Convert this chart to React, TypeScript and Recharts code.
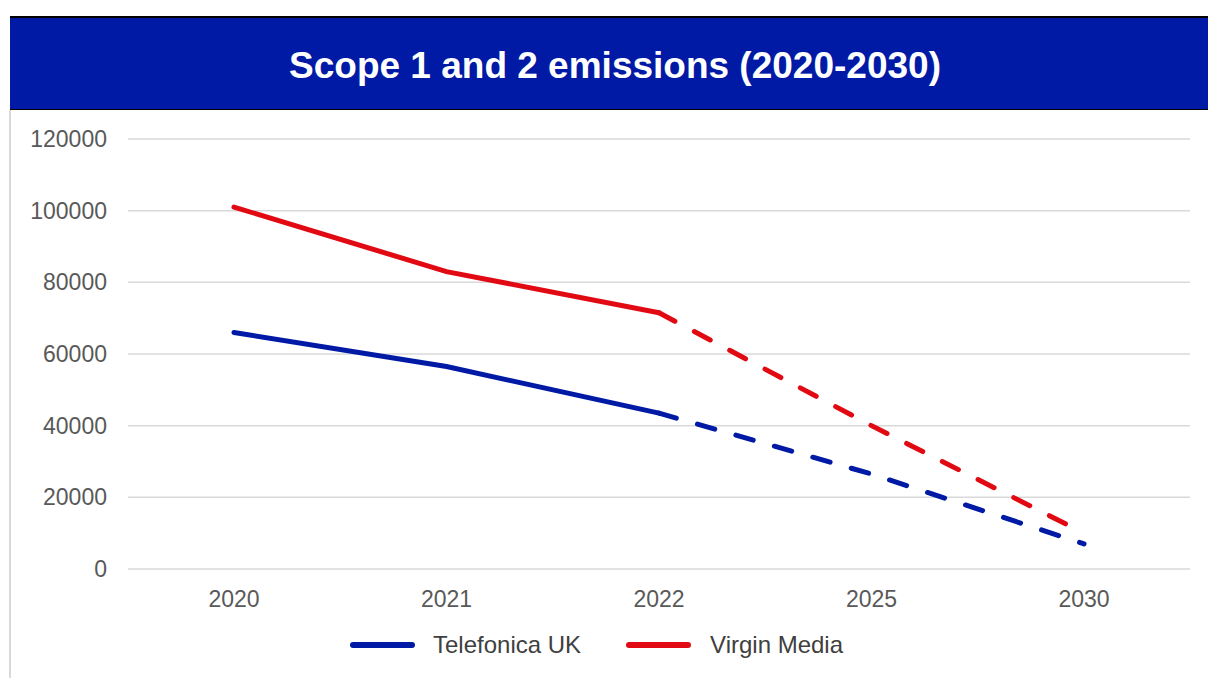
import { LineChart, Line, XAxis, YAxis, CartesianGrid } from 'recharts';

const years = ['2020', '2021', '2022', '2025', '2030'];
const telefonicaUK = [66000, 56500, 43500, 26500, 7000];
const virginMedia = [101000, 83000, 71500, 40000, 10000];
const yTicks = [0, 20000, 40000, 60000, 80000, 100000, 120000];
const lastActual = 2; // 2022 is the last reported year, after that it's target

const BLUE = '#001AA5';
const RED = '#E20A12';

const data = years.map((year, i) => ({
    year,
    telActual: i <= lastActual ? telefonicaUK[i] : null,
    telTarget: i >= lastActual ? telefonicaUK[i] : null,
    vmActual: i <= lastActual ? virginMedia[i] : null,
    vmTarget: i >= lastActual ? virginMedia[i] : null,
}));

const font = '"Liberation Sans", Arial, sans-serif';

export default function App() {
    return (
        <div style={{ position: 'absolute', left: 0, top: 0, width: 1208, height: 678, background: '#fff', fontFamily: font, overflow: 'hidden' }}>
            {/* title band */}
            <div style={{
                position: 'absolute', left: 10, top: 16, width: 1198, height: 91,
                background: BLUE, borderTop: '2px solid #000', borderBottom: '1px solid #000',
            }}>
                <div style={{ position: 'absolute', left: 0, top: 26, width: 1210, textAlign: 'center', color: '#fff', fontWeight: 700, fontSize: 37, lineHeight: '44px' }}>
                    Scope 1 and 2 emissions (2020-2030)
                </div>
            </div>
            {/* left frame line */}
            <div style={{ position: 'absolute', left: 9, top: 110, width: 2, height: 568, background: '#d9d9d9' }} />

            <div style={{ position: 'absolute', left: 0, top: 110 }}>
                <LineChart width={1208} height={510} data={data} margin={{ top: 29, right: 18, bottom: 0, left: 10 }}>
                    <CartesianGrid vertical={false} stroke="#d9d9d9" strokeWidth={1.5} />
                    <XAxis
                        dataKey="year"
                        axisLine={false}
                        tickLine={false}
                        tickSize={0}
                        tickMargin={22}
                        height={51}
                        padding={{ left: 106, right: 106 }}
                        tick={{ fill: '#595959', fontSize: 23, fontFamily: font }}
                    />
                    <YAxis
                        domain={[0, 120000]}
                        ticks={yTicks}
                        width={118}
                        axisLine={false}
                        tickLine={false}
                        tickSize={0}
                        tickMargin={21}
                        tick={{ fill: '#595959', fontSize: 23, fontFamily: font }}
                    />
                    <Line dataKey="telActual" stroke={BLUE} strokeWidth={5} dot={false} isAnimationActive={false} strokeLinecap="round" />
                    <Line dataKey="telTarget" stroke={BLUE} strokeWidth={5} dot={false} isAnimationActive={false} strokeLinecap="round" strokeDasharray="18 22" legendType="none" />
                    <Line dataKey="vmActual" stroke={RED} strokeWidth={5} dot={false} isAnimationActive={false} strokeLinecap="round" />
                    <Line dataKey="vmTarget" stroke={RED} strokeWidth={5} dot={false} isAnimationActive={false} strokeLinecap="round" strokeDasharray="18 22" legendType="none" />
                </LineChart>
            </div>

            {/* legend */}
            <div style={{ position: 'absolute', top: 630, left: 350, display: 'flex', fontSize: 24, lineHeight: '30px', color: '#404040' }}>
                <div style={{ display: 'flex', alignItems: 'center', marginRight: 45 }}>
                    <span style={{ display: 'inline-block', width: 65, height: 6, borderRadius: 3, background: BLUE, marginRight: 18 }} />
                    Telefonica UK
                </div>
                <div style={{ display: 'flex', alignItems: 'center' }}>
                    <span style={{ display: 'inline-block', width: 65, height: 6, borderRadius: 3, background: RED, marginRight: 19 }} />
                    Virgin Media
                </div>
            </div>
        </div>
    );
}
